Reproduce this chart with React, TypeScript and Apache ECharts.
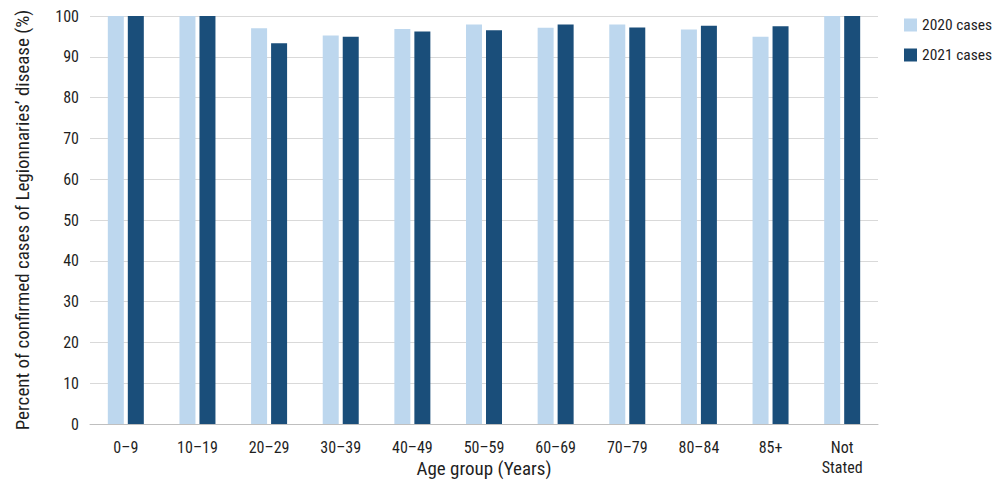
import React, { useRef, useEffect } from 'react';
import * as echarts from 'echarts';

const AGE_GROUPS = ['0–9', '10–19', '20–29', '30–39', '40–49', '50–59', '60–69', '70–79', '80–84', '85+', 'Not\nStated'];
const CASES_2020 = [100, 100, 97.0, 95.2, 96.8, 97.9, 97.1, 97.9, 96.7, 94.9, 100];
const CASES_2021 = [100, 100, 93.3, 94.9, 96.2, 96.5, 97.9, 97.2, 97.6, 97.5, 100];

const FONT = '"Roboto Condensed", Roboto, sans-serif';
const TEXT = '#1f1f1f';

const App: React.FC = () => {
  const chartRef = useRef<HTMLDivElement>(null);

  useEffect(() => {
    document.body.style.margin = '0';
    if (!chartRef.current) return;
    const chart = echarts.init(chartRef.current, undefined, { renderer: 'svg' });

    chart.setOption({
      animation: false,
      textStyle: { fontFamily: FONT },
      grid: { left: 90, right: 122, top: 16, bottom: 62, containLabel: false, outerBoundsMode: 'none' },
      legend: {
        orient: 'vertical',
        left: 904,
        top: 17,
        padding: 0,
        itemWidth: 13,
        itemHeight: 13,
        itemGap: 14,
        itemTextGap: 5,
        icon: 'rect',
        textStyle: { fontFamily: FONT, fontSize: 15.5, color: TEXT },
        data: ['2020 cases', '2021 cases'],
      },
      xAxis: {
        type: 'category',
        data: AGE_GROUPS,
        name: 'Age group (Years)',
        nameLocation: 'middle',
        nameGap: 35,
        nameMoveOverlap: false,
        nameTextStyle: { fontFamily: FONT, fontSize: 19, color: TEXT },
        axisLine: { lineStyle: { color: '#bfbfbf' } },
        axisTick: { show: false },
        axisLabel: { fontFamily: FONT, fontSize: 16, color: TEXT, margin: 13, lineHeight: 20, interval: 0 },
      },
      yAxis: {
        type: 'value',
        min: 0,
        max: 100,
        interval: 10,
        name: 'Percent of confirmed cases of Legionnaries’ disease (%)',
        nameLocation: 'middle',
        nameGap: 58,
        nameTextStyle: { fontFamily: FONT, fontSize: 19, color: TEXT },
        axisLine: { show: false },
        axisTick: { show: false },
        axisLabel: { fontFamily: FONT, fontSize: 16, color: TEXT, margin: 11 },
        splitLine: { lineStyle: { color: '#d9d9d9' } },
      },
      series: [
        {
          name: '2020 cases',
          type: 'bar',
          data: CASES_2020,
          barWidth: 16,
          barGap: '25%',
          itemStyle: { color: '#bdd7ee' },
        },
        {
          name: '2021 cases',
          type: 'bar',
          data: CASES_2021,
          barWidth: 16,
          itemStyle: { color: '#1a4e7a' },
        },
      ],
    });

    return () => {
      chart.dispose();
    };
  }, []);

  return <div ref={chartRef} style={{ width: 1000, height: 486 }} />;
};

export default App;
